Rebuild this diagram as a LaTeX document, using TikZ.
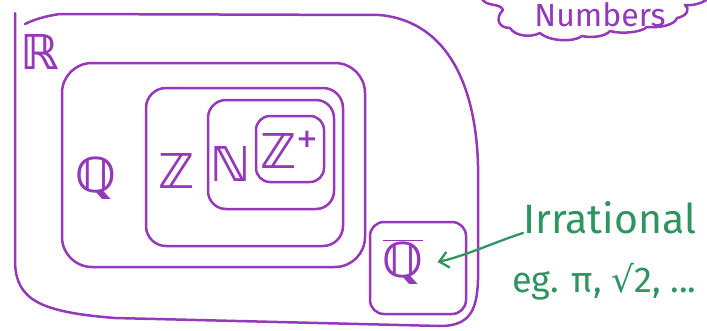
\documentclass[tikz,border=0pt]{standalone}
\usepackage{fontspec}
\newfontfamily\handfont{Fira Sans}
\newfontfamily\dsfont{DejaVu Sans}
\usetikzlibrary{arrows.meta}
\definecolor{pur}{RGB}{147,57,185}
\definecolor{grn}{RGB}{46,148,96}
\begin{document}
\begin{tikzpicture}[x=1pt,y=-1pt,line cap=round,line join=round,
  setbox/.style={draw=pur,line width=2.5pt},
  setlabel/.style={text=pur,font=\dsfont\bfseries\fontsize{48}{48}\selectfont,inner sep=0pt},
  note/.style={text=grn,font=\handfont\fontsize{41}{41}\selectfont,inner sep=0pt},
  conn/.style={draw=grn,line width=2.3pt,-{Straight Barb[length=9pt,width=16pt,line width=2.3pt]}}]
\useasboundingbox (0,0) rectangle (707,330);
\clip (0,0) rectangle (707,330);
% R box
\draw[setbox] (15,13) -- (15,262) .. controls (16,300) and (40,312) .. (115,318)
  -- (440,326) .. controls (470,326) and (477,310) .. (478,280) -- (478,165)
  .. controls (476,90) and (450,22) .. (380,15) -- (60,14) .. controls (45,16) and (33,20) .. (25,24);
% Q box
\draw[setbox,rounded corners=30pt] (62,63) rectangle (365,267);
% Z box
\draw[setbox,rounded corners=20pt] (146,88) rectangle (343,246);
% N box
\draw[setbox,rounded corners=18pt] (208,100) rectangle (334,209);
% Z+ box
\draw[setbox,rounded corners=14pt] (256,116) rectangle (324,182);
% Qbar box
\draw[setbox,rounded corners=14pt] (370,222) rectangle (466,314);
% cloud
\draw[setbox] (481,-3) .. controls (485,8) and (500,2) .. (503,10)
  .. controls (495,18) and (498,28) .. (510,28)
  .. controls (515,36) and (530,38) .. (540,33)
  .. controls (550,42) and (575,42) .. (582,36)
  .. controls (590,38) and (605,37) .. (610,31)
  .. controls (620,34) and (640,33) .. (647,27)
  .. controls (660,28) and (675,25) .. (677,18)
  .. controls (688,16) and (690,8) .. (685,5)
  .. controls (695,6) and (705,2) .. (710,-3);
% labels
\node[setlabel] (lR) at (40,52) {ℝ};
\node[setlabel] (lQ) at (96,178) {ℚ};
\node[setlabel] (lZ) at (177,171) {ℤ};
\node[setlabel] (lN) at (231,164) {ℕ};
\node[setlabel] (lZp) at (289,150) {ℤ\raisebox{0.45em}{\fontsize{26}{26}\selectfont +}};
\node[setlabel] (lQb) at (403,262) {$\overline{\hbox{\dsfont\bfseries\fontsize{48}{48}\selectfont ℚ}}$};
\node[text=pur,font=\handfont\fontsize{32}{32}\selectfont,inner sep=0pt,anchor=base] (num) at (600,26) {Numbers};
\node[note,anchor=base west] (irr) at (523,233) {Irrational};
\node[note,anchor=base west,font=\handfont\fontsize{36}{36}\selectfont] (eg) at (512,292) {eg. π, {\dsfont √}2, ...};
\draw[conn] (irr.base west) .. controls (495,242) and (465,256) .. ([xshift=14pt]lQb.east);
\end{tikzpicture}
\end{document}
